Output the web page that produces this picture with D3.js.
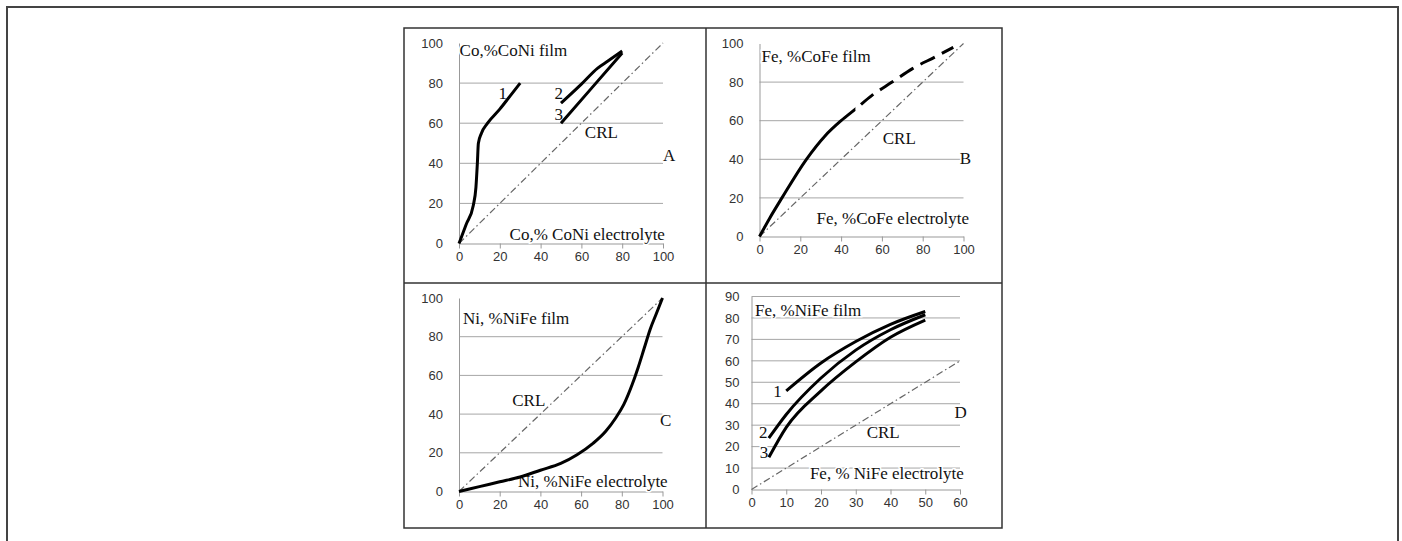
<!DOCTYPE html>
<html>
<head>
<meta charset="utf-8">
<script src="https://cdn.jsdelivr.net/npm/d3@7"></script>
<style>
  body { margin: 0; background: #fff; }
  svg { display: block; }
</style>
</head>
<body>
<div id="chart"></div>
<script>
// ---- data ----
// A: Co in CoNi
const coNiTicksX = [0, 20, 40, 60, 80, 100];
const coNiTicksY = [0, 20, 40, 60, 80, 100];
const coNiCurve1 = [[0, 0], [3.5, 9.5], [7, 19], [8.3, 28], [9, 40], [9.5, 50], [11, 55], [14, 60], [20, 67], [25, 73.5], [30, 80]];
const coNiCurve2 = [[50, 70], [60, 79.5], [68, 87.5], [73, 91], [80, 96]];
const coNiCurve3 = [[50, 60], [65, 77.5], [80, 95]];
// B: Fe in CoFe
const coFeTicksX = [0, 20, 40, 60, 80, 100];
const coFeTicksY = [0, 20, 40, 60, 80, 100];
const coFeCurve = [[0, 0], [5, 9.5], [11, 20], [23, 40], [32, 52], [40, 60], [47, 66], [55, 73], [65, 80], [75, 87], [86, 93], [95, 98]];
const coFeSolidUntil = 47;
// C: Ni in NiFe
const niFeTicksX = [0, 20, 40, 60, 80, 100];
const niFeTicksY = [0, 20, 40, 60, 80, 100];
const niFeCurve = [[0, 0], [10, 2.5], [20, 5], [30, 7.5], [40, 11], [50, 14.5], [58, 19], [66, 25], [72, 31], [77, 38], [81, 45], [85, 55], [88, 64], [91, 74], [94, 84], [97, 92], [100, 100]];
// D: Fe in NiFe
const feNiTicksX = [0, 10, 20, 30, 40, 50, 60];
const feNiTicksY = [0, 10, 20, 30, 40, 50, 60, 70, 80, 90];
const feNiCurve1 = [[10, 46], [20, 59], [30, 69], [40, 77], [50, 83]];
const feNiCurve2 = [[5, 24], [10, 35], [20, 52], [30, 65], [40, 74.5], [50, 81.5]];
const feNiCurve3 = [[5, 15], [10, 29], [20, 46], [30, 59.5], [40, 71], [50, 79]];
// composition reference lines
const crl100 = [[0, 0], [100, 100]];
const crl60 = [[0, 0], [60, 60]];

const W = 1402, H = 541;

const svg = d3.select('#chart').append('svg')
  .attr('width', W).attr('height', H)
  .attr('viewBox', `0 0 ${W} ${H}`);

// outer frame (open at the bottom)
svg.append('path')
  .attr('d', `M7,${H} L7,7 L1398,7 L1398,${H}`)
  .attr('fill', 'none').attr('stroke', '#444').attr('stroke-width', 2);

// 2x2 panel grid
const grid = svg.append('g').attr('stroke', '#333').attr('stroke-width', 1.5).attr('fill', 'none');
grid.append('rect').attr('x', 404).attr('y', 28).attr('width', 598).attr('height', 500);
grid.append('line').attr('x1', 706).attr('x2', 706).attr('y1', 28).attr('y2', 528);
grid.append('line').attr('x1', 404).attr('x2', 1002).attr('y1', 283).attr('y2', 283);

const serif = '"Liberation Serif", "Times New Roman", serif';
const sans = '"Liberation Sans", Arial, sans-serif';

function drawPanel(cfg) {
  const x = d3.scaleLinear().domain(cfg.xDomain).range(cfg.xRange);
  const y = d3.scaleLinear().domain(cfg.yDomain).range(cfg.yRange);
  const g = svg.append('g');

  // horizontal gridlines
  g.append('g').selectAll('line')
    .data(cfg.ticksY.filter(v => v > 0 && (cfg.topGrid || v < cfg.yDomain[1])))
    .join('line')
    .attr('x1', x(cfg.xDomain[0])).attr('x2', x(cfg.xDomain[1]))
    .attr('y1', d => y(d)).attr('y2', d => y(d))
    .attr('stroke', '#a6a6a6').attr('stroke-width', 1);

  // y axis (line, no ticks)
  const yAx = g.append('g')
    .attr('transform', `translate(${x(cfg.xDomain[0])},0)`)
    .call(d3.axisLeft(y).tickValues(cfg.ticksY).tickSize(0).tickPadding(cfg.yPad));
  yAx.select('.domain').attr('stroke', '#999');
  yAx.selectAll('text').attr('font-family', sans).attr('font-size', 13).attr('fill', '#333');

  // x axis with outside ticks
  const xAx = g.append('g')
    .attr('transform', `translate(0,${y(0)})`)
    .call(d3.axisBottom(x).tickValues(cfg.ticksX).tickSizeInner(5).tickSizeOuter(0).tickPadding(3));
  xAx.select('.domain').attr('stroke', '#999');
  xAx.selectAll('.tick line').attr('stroke', '#999');
  xAx.selectAll('text').attr('font-family', sans).attr('font-size', 13).attr('fill', '#333');

  const line = d3.line().x(d => x(d[0])).y(d => y(d[1]));

  // CRL dash-dot
  g.append('path').datum(cfg.crl)
    .attr('d', line)
    .attr('fill', 'none').attr('stroke', '#666').attr('stroke-width', 1.2)
    .attr('stroke-dasharray', '7,3,1.5,3');

  // text labels
  cfg.labels.forEach(l => {
    g.append('text')
      .attr('x', x(l.x)).attr('y', y(l.y))
      .attr('dy', '0.35em')
      .attr('text-anchor', l.anchor || 'middle')
      .attr('font-family', serif).attr('font-size', l.size || 17)
      .attr('fill', '#111')
      .attr('stroke', '#fff').attr('stroke-width', 3).attr('paint-order', 'stroke')
      .text(l.text);
  });

  // curves
  const smooth = d3.line().curve(d3.curveMonotoneX).x(d => x(d[0])).y(d => y(d[1]));
  cfg.curves.forEach(c => {
    const p = g.append('path').datum(c.data)
      .attr('d', smooth)
      .attr('fill', 'none').attr('stroke', '#000').attr('stroke-width', 3)
      .attr('stroke-linejoin', 'round');
    if (c.solidUntil != null) {
      // solid up to solidUntil, then long dashes
      const id = 'clip' + Math.round(x(c.solidUntil));
      const defs = svg.append('defs');
      defs.append('clipPath').attr('id', id + 'a').append('rect')
        .attr('x', 0).attr('y', 0).attr('width', x(c.solidUntil)).attr('height', H);
      defs.append('clipPath').attr('id', id + 'b').append('rect')
        .attr('x', x(c.solidUntil)).attr('y', 0).attr('width', W).attr('height', H);
      p.attr('clip-path', `url(#${id}a)`);
      g.append('path').datum(c.data)
        .attr('d', smooth)
        .attr('fill', 'none').attr('stroke', '#000').attr('stroke-width', 3)
        .attr('stroke-dasharray', '16,8')
        .attr('clip-path', `url(#${id}b)`);
    }
  });
}

drawPanel({
  xDomain: [0, 100], yDomain: [0, 100],
  xRange: [459, 663], yRange: [243.5, 43],
  ticksX: coNiTicksX, ticksY: coNiTicksY, yPad: 16,
  crl: crl100,
  curves: [{ data: coNiCurve1 }, { data: coNiCurve2 }, { data: coNiCurve3 }],
  labels: [
    { text: 'Co,%CoNi film', x: 0.3, y: 96.5, anchor: 'start' },
    { text: 'Co,% CoNi electrolyte', x: 24.8, y: 4.5, anchor: 'start' },
    { text: 'CRL', x: 69.8, y: 55.8 },
    { text: 'A', x: 103, y: 44 },
    { text: '1', x: 21.4, y: 75 },
    { text: '2', x: 48.9, y: 74.8 },
    { text: '3', x: 48.9, y: 64.8 }
  ]
});

drawPanel({
  xDomain: [0, 100], yDomain: [0, 100],
  xRange: [759.5, 963.5], yRange: [236.5, 43.5],
  ticksX: coFeTicksX, ticksY: coFeTicksY, yPad: 16,
  crl: crl100,
  curves: [{ data: coFeCurve, solidUntil: coFeSolidUntil }],
  labels: [
    { text: 'Fe, %CoFe film', x: 1, y: 93.4, anchor: 'start' },
    { text: 'Fe, %CoFe electrolyte', x: 28, y: 9.8, anchor: 'start' },
    { text: 'CRL', x: 68.5, y: 50.9 },
    { text: 'B', x: 101, y: 40.5 }
  ]
});

drawPanel({
  xDomain: [0, 100], yDomain: [0, 100],
  xRange: [459, 662.5], yRange: [491.5, 298],
  ticksX: niFeTicksX, ticksY: niFeTicksY, yPad: 16,
  crl: crl100,
  curves: [{ data: niFeCurve }],
  labels: [
    { text: 'Ni, %NiFe film', x: 2, y: 89.7, anchor: 'start' },
    { text: 'Ni, %NiFe electrolyte', x: 29, y: 5.5, anchor: 'start' },
    { text: 'CRL', x: 34.3, y: 47.4 },
    { text: 'C', x: 101.5, y: 37 }
  ]
});

drawPanel({
  xDomain: [0, 60], yDomain: [0, 90], topGrid: true,
  xRange: [751.5, 960], yRange: [489.5, 296.5],
  ticksX: feNiTicksX, ticksY: feNiTicksY, yPad: 12,
  crl: crl60,
  curves: [{ data: feNiCurve1 }, { data: feNiCurve2 }, { data: feNiCurve3 }],
  labels: [
    { text: 'Fe, %NiFe film', x: 1, y: 83.8, anchor: 'start' },
    { text: 'Fe, % NiFe electrolyte', x: 16.8, y: 7.8, anchor: 'start' },
    { text: 'CRL', x: 37.9, y: 27 },
    { text: 'D', x: 60.2, y: 36.3 },
    { text: '1', x: 7.5, y: 46.1 },
    { text: '2', x: 3.4, y: 27 },
    { text: '3', x: 3.6, y: 17.3 }
  ]
});
</script>
</body>
</html>
